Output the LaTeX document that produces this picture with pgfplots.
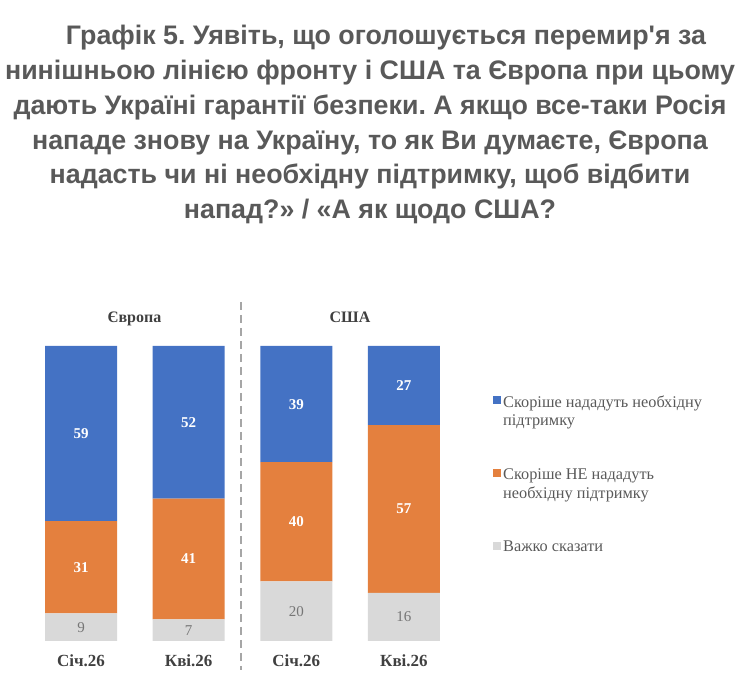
\documentclass[border=0pt]{standalone}
\usepackage{pgfplots}
\pgfplotsset{compat=1.18}
\usepackage{fontspec}
\setmainfont{Liberation Serif}
\newfontfamily\titlefont{Liberation Sans}
\definecolor{cblue}{HTML}{4472C4}
\definecolor{corange}{HTML}{E4803E}
\definecolor{cgray}{HTML}{D9D9D9}
\definecolor{tgray}{HTML}{595959}
\definecolor{dgray}{HTML}{404040}
\definecolor{lgray}{HTML}{767676}
\definecolor{sepgray}{HTML}{A6A6A6}
\frenchspacing
\begin{document}
\begin{tikzpicture}[x=1pt,y=1pt]
\path[use as bounding box] (0,0) rectangle (740,691);
\coordinate (axo) at (27.25,50);
% title
\begin{scope}[every node/.style={anchor=base, text=tgray, inner sep=0pt, font=\titlefont\bfseries\fontsize{26.8}{30}\selectfont}]
\node at (386,{691-45}) {Графік 5. Уявіть, що оголошується перемир'я за};
\node at (370,{691-79.7}) {нинішньою лінією фронту і США та Європа при цьому};
\node at (370,{691-114.4}) {дають Україні гарантії безпеки. А якщо все-таки Росія};
\node at (370,{691-149.1}) {нападе знову на Україну, то як Ви думаєте, Європа};
\node at (370,{691-183.8}) {надасть чи ні необхідну підтримку, щоб відбити};
\node at (370,{691-218.5}) {напад?» / «А як щодо США?};
\end{scope}
% bars
\begin{axis}[
  at={(axo)}, anchor=south west,
  scale only axis, width=430.5pt, height=295pt,
  xmin=-0.5, xmax=3.5, ymin=0, ymax=100,
  axis line style={draw=none}, tick style={draw=none},
  ybar stacked, bar width=72pt,
  xtick={0,1,2,3}, xticklabels={Січ.26,Кві.26,Січ.26,Кві.26},
  ytick=\empty,
  xticklabel style={anchor=base, yshift=-26pt, text=dgray, font=\bfseries\fontsize{17}{20}\selectfont},
  clip=false,
]
\addplot[fill=cgray, draw=none] coordinates {(0,9.4) (1,7.3) (2,20.2) (3,16.3)};
\addplot[fill=corange, draw=none] coordinates {(0,31.2) (1,41.0) (2,40.4) (3,56.9)};
\addplot[fill=cblue, draw=none] coordinates {(0,59.4) (1,51.7) (2,39.4) (3,26.8)};
\end{axis}
% labels
\begin{axis}[
  at={(axo)}, anchor=south west,
  scale only axis, width=430.5pt, height=295pt,
  xmin=-0.5, xmax=3.5, ymin=0, ymax=100,
  axis lines=none, xtick=\empty, ytick=\empty,
  clip=false,
  nodes near coords, point meta=explicit symbolic,
  nodes near coords align=center,
]
\addplot[draw=none, mark=none, every node near coord/.append style={anchor=center, text=lgray, font=\fontsize{15}{18}\selectfont}]
  coordinates {(0,4.7)[9] (1,3.65)[7] (2,10.1)[20] (3,8.15)[16]};
\addplot[draw=none, mark=none, every node near coord/.append style={anchor=center, text=white, font=\bfseries\fontsize{15}{18}\selectfont}]
  coordinates {(0,25.0)[31] (1,27.8)[41] (2,40.4)[40] (3,44.75)[57]};
\addplot[draw=none, mark=none, every node near coord/.append style={anchor=center, text=white, font=\bfseries\fontsize{15}{18}\selectfont}]
  coordinates {(0,70.3)[59] (1,74.15)[52] (2,80.3)[39] (3,86.6)[27]};
\end{axis}
% separator and group headers
\draw[sepgray, line width=1.5pt, dash pattern=on 8pt off 5pt] (241,{691-302}) -- (241,{691-670});
\node[anchor=base, text=dgray, font=\bfseries\fontsize{16}{19}\selectfont] at (134.5,{691-323}) {Європа};
\node[anchor=base, text=dgray, font=\bfseries\fontsize{16}{19}\selectfont] at (350,{691-323}) {США};
% legend
\fill[cblue] (492.5,{691-404}) rectangle (500.5,{691-396});
\fill[corange] (492.5,{691-477}) rectangle (500.5,{691-469});
\fill[cgray] (492.5,{691-550}) rectangle (500.5,{691-542});
\begin{scope}[every node/.style={anchor=base west, text=tgray, inner sep=0pt, font=\fontsize{16.3}{19}\selectfont}]
\node at (503,{691-408}) {Скоріше нададуть необхідну};
\node at (503,{691-426}) {підтримку};
\node at (503,{691-480}) {Скоріше НЕ нададуть};
\node at (503,{691-499}) {необхідну підтримку};
\node at (503,{691-552}) {Важко сказати};
\end{scope}
\end{tikzpicture}
\end{document}
